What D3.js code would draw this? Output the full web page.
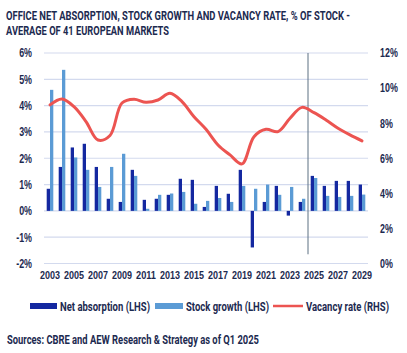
<!DOCTYPE html>
<html>
<head>
<meta charset="utf-8">
<script src="https://cdn.jsdelivr.net/npm/d3@7"></script>
<style>
  html, body { margin: 0; padding: 0; background: #fff; }
  svg { display: block; font-family: "Roboto", "Liberation Sans", sans-serif; }
</style>
</head>
<body>
<svg id="chart"></svg>
<script>
// values
const years = d3.range(2003, 2030)
const netAbsorption = [0.84, 1.67, 2.41, 2.55, 1.67, 0.46, 0.34, 1.56, 0.42, 0.46, 0.61, 1.22, 1.18, 0.15,
  0.95, 0.65, 1.56, -1.39, 0.34, 0.95, -0.18, 0.34, 1.33, 0.95, 1.14, 1.14, 1.0]
const stockGrowth = [4.6, 5.36, 2.03, 1.56, 0.91, 1.67, 2.17, 1.33, 0.08, 0.61, 0.66, 0.72, 0.27, 0.38,
  0.49, 0.34, 0.95, 0.84, 1.0, 0.61, 0.91, 0.46, 1.25, 0.57, 0.53, 0.57, 0.62]
const vacancyRate = [9.04, 9.38, 8.94, 8.09, 7.04, 7.3, 9.15, 9.36, 9.19, 9.32, 9.7, 9.23, 8.37, 7.65,
  6.76, 6.19, 5.68, 7.23, 7.65, 7.52, 8.28, 8.9, 8.6, 8.18, 7.71, 7.33, 6.99]
const leftTicks = [-2, -1, 0, 1, 2, 3, 4, 5, 6]
const rightTicks = [0, 2, 4, 6, 8, 10, 12]
const xLabels = d3.range(2003, 2030, 2)
const forecastStart = 2025
const titleLines = ['OFFICE NET ABSORPTION, STOCK GROWTH AND VACANCY RATE, % OF STOCK -', 'AVERAGE OF 41 EUROPEAN MARKETS']
const legendItems = ['Net absorption (LHS)', 'Stock growth (LHS)', 'Vacancy rate (RHS)']
const source = 'Sources: CBRE and AEW Research & Strategy as of Q1 2025'

const colors = { dark: '#1428a0', light: '#5b9bd5', red: '#ec5451', text: '#1c2a50', grid: '#d3daee' }

const svgWidth = 407
const svgHeight = 353
const margin = { top: 53, right: 39, bottom: 89.5, left: 44 }
const width = svgWidth - margin.left - margin.right
const height = svgHeight - margin.top - margin.bottom

// the reference uses a condensed face, squeeze text horizontally
const squeeze = 0.74
function fit (sel) {
  sel.each(function () {
    const w = this.getComputedTextLength()
    d3.select(this).attr('textLength', w * squeeze).attr('lengthAdjust', 'spacingAndGlyphs')
  })
}

const svg = d3.select('#chart')
  .attr('width', svgWidth)
  .attr('height', svgHeight)

// Title
svg.append('g')
  .selectAll('text')
  .data(titleLines)
  .join('text')
  .attr('x', 6)
  .attr('y', (d, i) => 20 + i * 15)
  .attr('fill', colors.text)
  .attr('font-weight', 'bold')
  .attr('font-size', 12)
  .attr('textLength', (d, i) => i === 0 ? 344 : 163)
  .attr('lengthAdjust', 'spacingAndGlyphs')
  .text(d => d)

const g = svg.append('g')
  .attr('transform', `translate(${margin.left}, ${margin.top})`)

const x = d3.scaleBand().domain(years).range([0, width]).paddingInner(0.45).paddingOuter(0.225)
const y = d3.scaleLinear().domain([-2, 6]).range([height, 0])
const y2 = d3.scaleLinear().domain([0, 12]).range([height, 0])

// gridlines
g.append('g')
  .selectAll('line')
  .data(leftTicks)
  .join('line')
  .attr('x1', 0)
  .attr('x2', width)
  .attr('y1', d => y(d))
  .attr('y2', d => y(d))
  .attr('stroke', colors.grid)
  .attr('stroke-width', 1.2)

// Left axis
const yAxis = d3.axisLeft(y).tickValues(leftTicks).tickFormat(d => d + '%').tickSize(0).tickPadding(12)
const gy = g.append('g').call(yAxis)
gy.select('.domain').remove()
gy.selectAll('text').attr('fill', colors.text).attr('font-size', 12).attr('font-weight', 'bold').call(fit)

// Right axis
const yAxis2 = d3.axisRight(y2).tickValues(rightTicks).tickFormat(d => d + '%').tickSize(0).tickPadding(12)
const gy2 = g.append('g').attr('transform', `translate(${width}, 0)`).call(yAxis2)
gy2.select('.domain').remove()
gy2.selectAll('text').attr('fill', colors.text).attr('font-size', 12).attr('font-weight', 'bold').call(fit)

// X axis labels
const xAxis = d3.axisBottom(x).tickValues(xLabels).tickSize(0).tickPadding(8)
const gx = g.append('g').attr('transform', `translate(0, ${height})`).call(xAxis)
gx.select('.domain').remove()
gx.selectAll('text').attr('fill', colors.text).attr('font-size', 10).attr('font-weight', 'bold')
  .attr('textLength', 20).attr('lengthAdjust', 'spacingAndGlyphs')

// bars
const half = x.bandwidth() / 2
g.append('g')
  .selectAll('rect')
  .data(years)
  .join('rect')
  .attr('x', (d, i) => x(d))
  .attr('width', half)
  .attr('y', (d, i) => y(Math.max(0, netAbsorption[i])))
  .attr('height', (d, i) => Math.abs(y(netAbsorption[i]) - y(0)))
  .attr('fill', colors.dark)

g.append('g')
  .selectAll('rect')
  .data(years)
  .join('rect')
  .attr('x', (d, i) => x(d) + half)
  .attr('width', half)
  .attr('y', (d, i) => y(Math.max(0, stockGrowth[i])))
  .attr('height', (d, i) => Math.abs(y(stockGrowth[i]) - y(0)))
  .attr('fill', colors.light)

// forecast divider
const step = x.step()
const divX = x(forecastStart) - (step - x.bandwidth()) / 2
g.append('line')
  .attr('x1', divX)
  .attr('x2', divX)
  .attr('y1', 0)
  .attr('y2', y(-1.65))
  .attr('stroke', '#5d7182')
  .attr('stroke-width', 1)

// vacancy line
const line = d3.line()
  .x(d => x(d.year) + x.bandwidth() / 2)
  .y(d => y2(d.value))
  .curve(d3.curveCatmullRom.alpha(0.5))

g.append('path')
  .datum(years.map((yr, i) => ({ year: yr, value: vacancyRate[i] })))
  .attr('fill', 'none')
  .attr('stroke', colors.red)
  .attr('stroke-width', 3)
  .attr('stroke-linejoin', 'round')
  .attr('stroke-linecap', 'round')
  .attr('d', line)

// Legend
const legend = svg.append('g').attr('transform', 'translate(0, 306)')
const swatches = [
  { x: 30, w: 27, type: 'rect', color: colors.dark },
  { x: 155, w: 28, type: 'rect', color: colors.light },
  { x: 273, w: 30, type: 'line', color: colors.red }
]
const textX = [60, 186, 306]
const textW = [90, 83, 83]
swatches.forEach((s, i) => {
  if (s.type === 'rect') {
    legend.append('rect').attr('x', s.x).attr('y', -3).attr('width', s.w).attr('height', 6).attr('fill', s.color)
  } else {
    legend.append('line').attr('x1', s.x).attr('x2', s.x + s.w).attr('y1', 0).attr('y2', 0)
      .attr('stroke', s.color).attr('stroke-width', 2.5)
  }
  legend.append('text')
    .attr('x', textX[i])
    .attr('y', 4.5)
    .attr('fill', colors.text)
    .attr('font-size', 12)
    .attr('font-weight', 'bold')
    .attr('textLength', textW[i])
    .attr('lengthAdjust', 'spacingAndGlyphs')
    .text(legendItems[i])
})

// Source
svg.append('text')
  .attr('x', 7)
  .attr('y', 343.5)
  .attr('fill', colors.text)
  .attr('font-size', 12.5)
  .attr('font-weight', 'bold')
  .attr('textLength', 252)
  .attr('lengthAdjust', 'spacingAndGlyphs')
  .text(source)
</script>
</body>
</html>
